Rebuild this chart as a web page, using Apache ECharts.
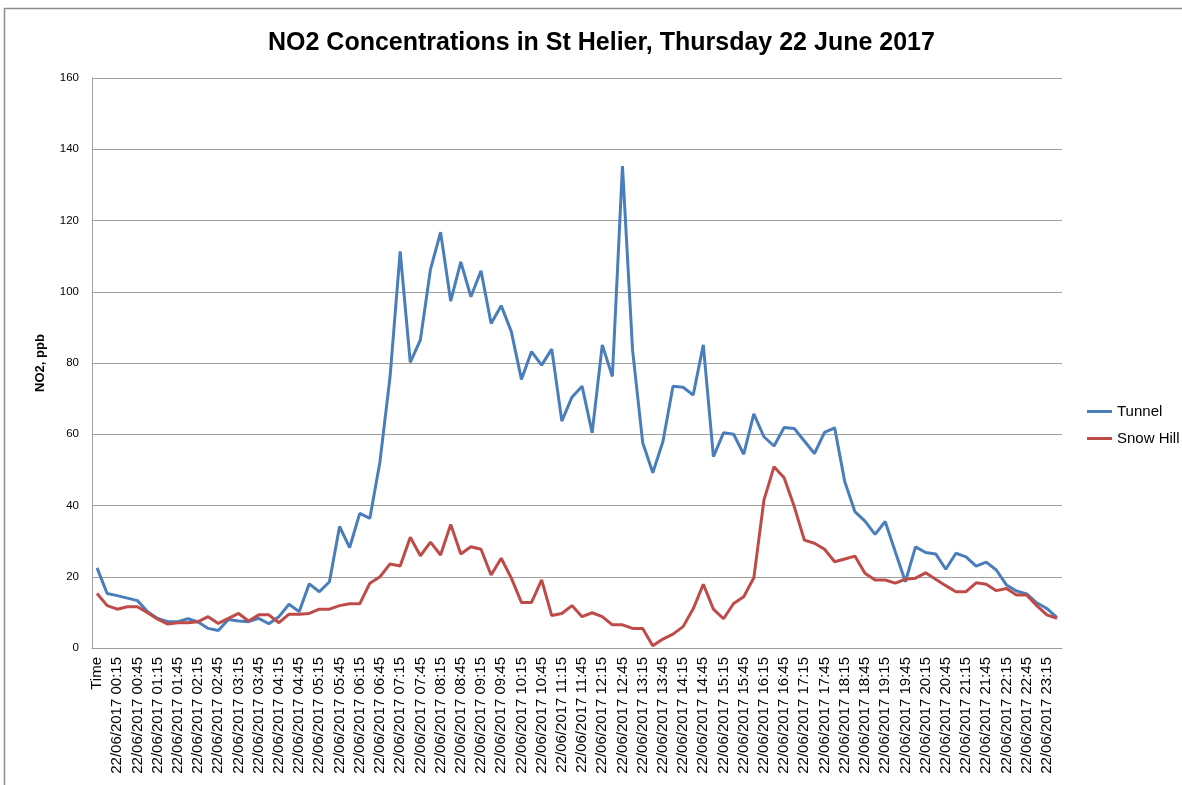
<!DOCTYPE html>
<html>
<head>
<meta charset="utf-8">
<script src="https://cdn.jsdelivr.net/npm/echarts@6/dist/echarts.min.js"></script>
<style>
html,body{margin:0;padding:0;background:#fff;}
#chart{width:1182px;height:785px;}
</style>
</head>
<body>
<div id="chart"></div>
<script>
const chartTitle = 'NO2 Concentrations in St Helier, Thursday 22 June 2017';
const datePrefix = '22/06/2017 ';
const times = ['00:00','00:15','00:30','00:45','01:00','01:15','01:30','01:45','02:00','02:15','02:30','02:45',
  '03:00','03:15','03:30','03:45','04:00','04:15','04:30','04:45','05:00','05:15','05:30','05:45',
  '06:00','06:15','06:30','06:45','07:00','07:15','07:30','07:45','08:00','08:15','08:30','08:45',
  '09:00','09:15','09:30','09:45','10:00','10:15','10:30','10:45','11:00','11:15','11:30','11:45',
  '12:00','12:15','12:30','12:45','13:00','13:15','13:30','13:45','14:00','14:15','14:30','14:45',
  '15:00','15:15','15:30','15:45','16:00','16:15','16:30','16:45','17:00','17:15','17:30','17:45',
  '18:00','18:15','18:30','18:45','19:00','19:15','19:30','19:45','20:00','20:15','20:30','20:45',
  '21:00','21:15','21:30','21:45','22:00','22:15','22:30','22:45','23:00','23:15','23:30'];
const categories = ['Time'].concat(times.map(t => datePrefix + t));

const tunnel = [22.5,15.3,14.7,14.0,13.3,10.2,8.3,7.4,7.4,8.2,7.3,5.5,4.9,8.0,7.6,7.4,8.3,6.8,8.8,12.3,
  10.2,18.0,15.8,18.6,34.1,28.2,37.8,36.4,52.3,76.2,111.3,80.2,86.5,106.3,116.7,97.4,108.4,98.6,105.9,91.1,
  96.1,88.8,75.4,83.2,79.4,83.9,63.7,70.4,73.5,60.4,85.1,76.2,135.3,83.6,57.7,49.2,57.9,73.5,73.2,71.0,
  85.1,53.7,60.4,60.0,54.4,65.7,59.3,56.7,61.9,61.6,58.1,54.6,60.5,61.8,46.7,38.3,35.6,31.9,35.5,27.0,
  18.6,28.4,26.8,26.4,22.1,26.6,25.6,23.0,24.1,21.9,17.7,16.0,15.2,12.7,11.1,8.5];
const snowHill = [15.3,11.9,10.9,11.6,11.6,9.9,8.1,6.7,7.1,7.1,7.4,8.8,6.9,8.3,9.7,7.6,9.3,9.3,7.1,9.5,
  9.5,9.7,10.9,10.9,11.9,12.4,12.4,18.2,20.0,23.6,23.0,31.1,25.9,29.7,26.1,34.7,26.4,28.4,27.7,20.5,
  25.2,19.6,12.8,12.8,19.1,9.1,9.7,11.9,8.8,9.9,8.8,6.5,6.5,5.5,5.5,0.6,2.5,3.9,6.0,11.0,
  17.9,10.9,8.2,12.5,14.4,19.7,41.5,50.9,47.8,39.7,30.3,29.4,27.7,24.2,25.0,25.8,21.0,19.1,19.1,18.2,
  19.3,19.6,21.1,19.3,17.5,15.8,15.8,18.3,17.9,16.1,16.7,14.9,14.9,11.9,9.3,8.3];
const yTicks = {min: 0, max: 160, interval: 20};

const chart = echarts.init(document.getElementById('chart'));
const font = 'Liberation Sans';
chart.setOption({
  animation: false,
  backgroundColor: '#ffffff',
  title: {
    text: chartTitle,
    left: 263,
    top: 26,
    textStyle: {fontFamily: font, fontSize: 25, fontWeight: 'bold', color: '#000'}
  },
  graphic: [{
    type: 'rect',
    shape: {x: 4.5, y: 8.5, width: 1200, height: 800},
    style: {fill: null, stroke: '#8c8c8c', lineWidth: 1.5},
    silent: true
  }],
  legend: {
    orient: 'vertical',
    left: 1082,
    top: 399,
    itemWidth: 25,
    itemHeight: 3,
    itemGap: 12,
    icon: 'rect',
    textStyle: {fontFamily: font, fontSize: 15, color: '#000'},
    data: ['Tunnel', 'Snow Hill']
  },
  grid: {left: 92, right: 120, top: 78, bottom: 137, containLabel: false},
  xAxis: {
    type: 'category',
    data: categories,
    boundaryGap: true,
    axisLine: {lineStyle: {color: '#a0a0a0', width: 1}},
    axisTick: {show: false},
    axisLabel: {interval: 1, rotate: 90, fontFamily: font, fontSize: 15, color: '#000', margin: 9}
  },
  yAxis: {
    type: 'value',
    min: yTicks.min, max: yTicks.max, interval: yTicks.interval,
    name: 'NO2, ppb',
    nameLocation: 'middle',
    nameGap: 45,
    nameTextStyle: {fontFamily: font, fontSize: 13, fontWeight: 'bold', color: '#000'},
    axisLine: {show: true, lineStyle: {color: '#a0a0a0', width: 1}},
    axisTick: {show: false},
    splitLine: {lineStyle: {color: '#a0a0a0', width: 1}},
    axisLabel: {fontFamily: font, fontSize: 11.5, color: '#000', margin: 13}
  },
  series: [
    {name: 'Tunnel', type: 'line', data: tunnel, showSymbol: false, symbol: 'none',
     lineStyle: {color: '#4a7ebb', width: 3}, itemStyle: {color: '#4a7ebb'}},
    {name: 'Snow Hill', type: 'line', data: snowHill, showSymbol: false, symbol: 'none',
     lineStyle: {color: '#be4b48', width: 3}, itemStyle: {color: '#be4b48'}}
  ]
});
</script>
</body>
</html>
